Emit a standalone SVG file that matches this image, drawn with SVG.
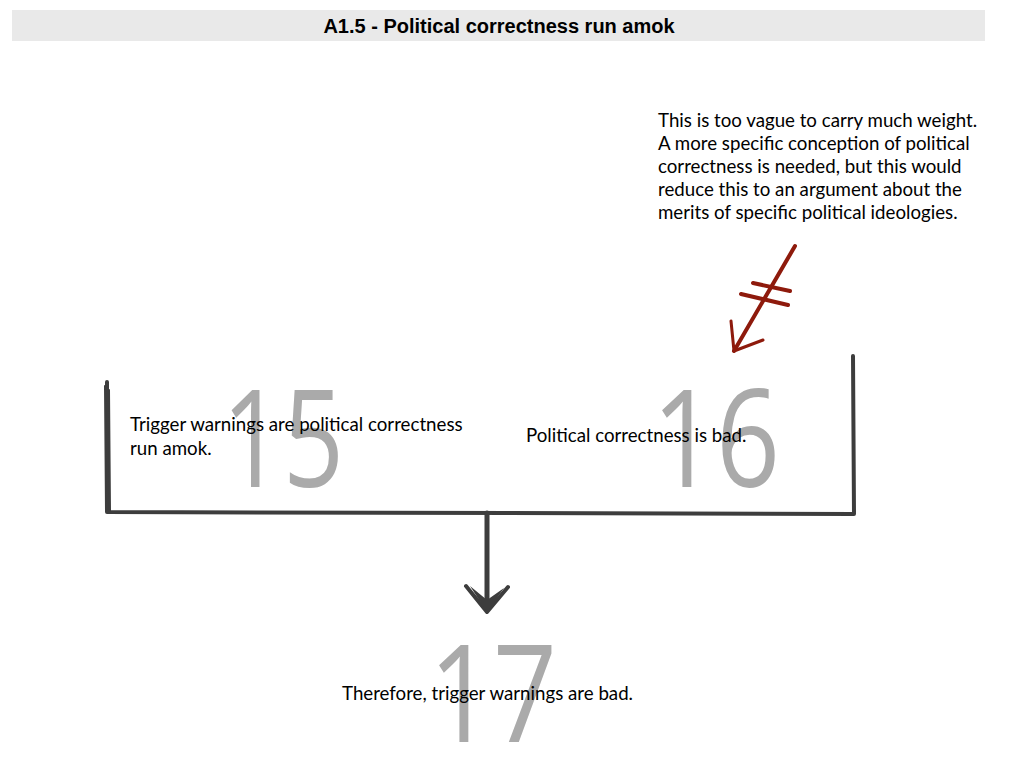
<svg xmlns="http://www.w3.org/2000/svg" width="1024" height="768" viewBox="0 0 1024 768">
<style>
.num{font-family:"Open Sans","Lato","DejaVu Sans",sans-serif;font-weight:400;font-size:136px;fill:#aaaaaa}
.txt{font-family:"Lato","Open Sans","DejaVu Sans",sans-serif;font-size:18.7px;fill:#000}
.sketch{fill:none;stroke:#3d3d3d;stroke-linecap:round;stroke-linejoin:round}
.red{fill:none;stroke:#8e1a0c;stroke-linecap:round;stroke-linejoin:round}
</style>
<rect x="12" y="10" width="973" height="31" fill="#e9e9e9"/>
<text x="499" y="33" text-anchor="middle" font-family="Liberation Sans, Arial, sans-serif" font-weight="bold" font-size="20">A1.5 - Political correctness run amok</text>

<g id="n15">
<text class="num" x="222" y="487" textLength="122" lengthAdjust="spacingAndGlyphs">15</text>
<text class="txt" x="130" y="431">Trigger warnings are political correctness</text>
<text class="txt" x="130" y="455">run amok.</text>
</g>
<g id="n16">
<text class="num" x="652" y="487" textLength="128" lengthAdjust="spacingAndGlyphs">16</text>
<text class="txt" x="526" y="442">Political correctness is bad.</text>
</g>
<g id="n17">
<text class="num" x="429" y="742" textLength="128" lengthAdjust="spacingAndGlyphs">17</text>
<text class="txt" x="342" y="700">Therefore, trigger warnings are bad.</text>
</g>
<g id="objection">
<text class="txt" x="658" y="127">This is too vague to carry much weight.</text>
<text class="txt" x="658" y="150">A more specific conception of political</text>
<text class="txt" x="658" y="173">correctness is needed, but this would</text>
<text class="txt" x="658" y="196">reduce this to an argument about the</text>
<text class="txt" x="658" y="219">merits of specific political ideologies.</text>
</g>

<g id="connectors">
<path class="sketch" stroke-width="4" d="M107,382 L107,512 L854,514 L853,356"/>
<path class="sketch" stroke-width="2" d="M105,386 L106,510 M109,390 L110,512"/>
<path class="sketch" stroke-width="5" d="M487,513 L487,608"/>
<path class="sketch" stroke-width="4" d="M466,586 L487,612 L508,587"/>
<path fill="#3d3d3d" d="M470,586 L487,612 L504,588 L487,600 Z"/>
<g id="rebuttal">
<path class="red" stroke-width="4" d="M795,246 L734,351"/>
<path class="red" stroke-width="3" d="M731,321 L734,351 L763,340"/>
<path class="red" stroke-width="4" d="M753,283 L790,291"/>
<path class="red" stroke-width="4" d="M741,294 L788,305"/>
</g>
</g>
</svg>
